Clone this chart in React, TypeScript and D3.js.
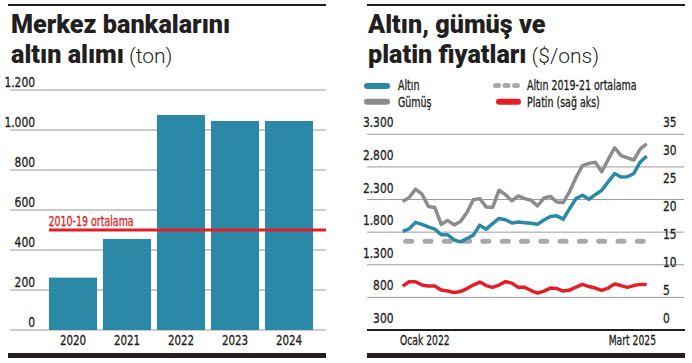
import React from 'react';
import * as d3 from 'd3';

// Merkez bankaları altın alımı (ton)
const years = ['2020', '2021', '2022', '2023', '2024'];
const purchases = [262, 455, 1075, 1045, 1045];
const avg2010_19 = 500;
const barTicks = [0, 200, 400, 600, 800, 1000, 1200];

// Altın, gümüş ve platin fiyatları, Ocak 2022 - Mart 2025 (aylık)
const months = d3.timeMonth.range(new Date(2022, 0, 1), new Date(2025, 3, 1));
const gold = [1812, 1850, 1950, 1920, 1880, 1846, 1760, 1760, 1680, 1650, 1700, 1754, 1907, 1846, 1930, 2010, 1990, 1940, 1955, 1945, 1935, 1922, 1985, 2040, 2050, 2000, 2160, 2316, 2366, 2305, 2375, 2443, 2570, 2698, 2646, 2650, 2700, 2876, 2968];
const silver = [23.0, 23.7, 25.2, 24.3, 22.1, 21.9, 18.9, 19.6, 18.8, 19.4, 21.0, 23.3, 23.5, 22.0, 21.9, 25.0, 24.2, 23.1, 24.0, 23.5, 23.2, 22.2, 23.6, 23.9, 22.9, 22.8, 24.8, 27.3, 29.4, 29.8, 30.0, 28.3, 30.5, 32.6, 31.2, 30.8, 30.4, 32.4, 33.3];
const platinum = [973, 1039, 1039, 989, 973, 973, 912, 897, 874, 889, 935, 989, 1035, 981, 954, 989, 1042, 1019, 954, 954, 905, 866, 897, 943, 935, 897, 912, 958, 999, 966, 943, 908, 943, 1004, 981, 954, 981, 999, 999];
const goldAvg2019_21 = 1662;
const leftTicks = [300, 800, 1300, 1800, 2300, 2800, 3300];
const rightTicks = [0, 5, 10, 15, 20, 25, 30, 35];

const BLUE = '#2b88a7';
const GRAY = '#8c8c8c';
const LIGHTGRAY = '#a9a9a9';
const RED = '#e41e26';
const INK = '#231f20';
const GRID = '#9a9a9a';
const NARROW = "'Liberation Sans Narrow', 'DejaVu Sans Condensed', sans-serif";
const TITLE = "Roboto, 'Open Sans', sans-serif";

const fmt = (v: number) => d3.format(',')(v).replace(/,/g, '.');

// condensed label: the original face is much narrower than anything installed
function NText({ x, y, sx = 0.78, anchor = 'start', size = 13.5, fill = INK, children }: any) {
  return (
    <text transform={`translate(${x},${y}) scale(${sx},1)`} textAnchor={anchor} fontFamily={NARROW} fontSize={size}
      fill={fill} stroke={fill} strokeWidth={0.3}>
      {children}
    </text>
  );
}

function BarPanel() {
  const x = d3.scaleBand<string>().domain(years).range([46, 316]).paddingInner(0.11).paddingOuter(0.055);
  const y = d3.scaleLinear().domain([0, 1200]).range([330, 90]);
  return (
    <g>
      <rect x={8} y={4} width={318} height={2} fill={INK} />
      <text x={11} y={33} fontFamily={TITLE} fontWeight={900} fontSize={25.2} fill={INK}>Merkez bankalarını</text>
      <text x={11} y={63} fontFamily={TITLE} fill={INK}>
        <tspan fontWeight={900} fontSize={25.2}>altın alımı</tspan>
        <tspan fontWeight={300} fontSize={21} dx={5}>(ton)</tspan>
      </text>
      {barTicks.map(t => (
        <g key={t}>
          <line x1={10} x2={326} y1={y(t)} y2={y(t)} stroke={GRID} strokeWidth={1} />
          <NText x={35} y={y(t) - 3.5} anchor="end" sx={0.88}>{fmt(t)}</NText>
        </g>
      ))}
      {years.map((yr, i) => (
        <rect key={yr} x={x(yr)} y={y(purchases[i])} width={x.bandwidth()} height={y(0) - y(purchases[i])} fill={BLUE} />
      ))}
      <line x1={49} x2={326} y1={y(avg2010_19)} y2={y(avg2010_19)} stroke={RED} strokeWidth={3} />
      <NText x={48.5} y={y(avg2010_19) - 4} size={13.5} fill={RED}>2010-19 ortalama</NText>
      {years.map(yr => (
        <NText key={yr} x={(x(yr) as number) + x.bandwidth() / 2} y={345} anchor="middle" sx={0.85}>{yr}</NText>
      ))}
      <rect x={8} y={353} width={318} height={5} fill={INK} />
    </g>
  );
}

function LinePanel() {
  const x = d3.scaleLinear().domain([0, months.length - 1]).range([402.7, 646.7]);
  const yL = d3.scaleLinear().domain([300, 3300]).range([330, 134.3]);
  const yR = d3.scaleLinear().domain([0, 35]).range([330, 134.3]);
  const lineL = d3.line<number>().x((_, i) => x(i)).y(d => yL(d));
  const lineR = d3.line<number>().x((_, i) => x(i)).y(d => yR(d));
  return (
    <g>
      <rect x={367} y={4} width={318} height={2} fill={INK} />
      <text x={368} y={33} fontFamily={TITLE} fontWeight={900} fontSize={25.2} fill={INK}>Altın, gümüş ve</text>
      <text x={368} y={63} fontFamily={TITLE} fill={INK}>
        <tspan fontWeight={900} fontSize={25.2}>platin fiyatları</tspan>
        <tspan fontWeight={300} fontSize={21} dx={5}>($/ons)</tspan>
      </text>

      {/* legend */}
      <line x1={367} x2={387} y1={86} y2={86} stroke={BLUE} strokeWidth={6} strokeLinecap="round" />
      <NText x={398} y={90}>Altın</NText>
      <line x1={367} x2={387} y1={101.7} y2={101.7} stroke={GRAY} strokeWidth={6} strokeLinecap="round" />
      <NText x={398} y={107}>Gümüş</NText>
      <line x1={495.5} x2={518} y1={85.5} y2={85.5} stroke={LIGHTGRAY} strokeWidth={5} strokeLinecap="round" strokeDasharray="3 6.5" />
      <NText x={527} y={90}>Altın 2019-21 ortalama</NText>
      <line x1={499} x2={518} y1={101.7} y2={101.7} stroke={RED} strokeWidth={6} strokeLinecap="round" />
      <NText x={527} y={107}>Platin (sağ aks)</NText>

      {leftTicks.slice(1).map(t => (
        <line key={t} x1={367} x2={684} y1={yL(t)} y2={yL(t)} stroke={GRID} strokeWidth={1} />
      ))}
      {leftTicks.map(t => (
        <NText key={t} x={393.5} y={yL(t) - 7} anchor="end" sx={0.88}>{fmt(t)}</NText>
      ))}
      {rightTicks.map(t => (
        <NText key={t} x={663} y={yR(t) - 7} sx={0.88}>{t}</NText>
      ))}

      <line x1={x(0) + 3} x2={644} y1={yL(goldAvg2019_21)} y2={yL(goldAvg2019_21)} stroke={LIGHTGRAY} strokeWidth={5} strokeLinecap="round" strokeDasharray="6 13.3" />
      <path d={lineR(silver) || ''} fill="none" stroke={GRAY} strokeWidth={3.5} strokeLinejoin="round" />
      <path d={lineL(gold) || ''} fill="none" stroke={BLUE} strokeWidth={3.5} strokeLinejoin="round" />
      <path d={lineL(platinum) || ''} fill="none" stroke={RED} strokeWidth={3.5} strokeLinejoin="round" />

      <rect x={367} y={329} width={318} height={2} fill={INK} />
      <NText x={400} y={345} sx={0.76}>Ocak 2022</NText>
      <NText x={656} y={345} anchor="end" sx={0.76}>Mart 2025</NText>
      <rect x={367} y={353} width={318} height={5} fill={INK} />
    </g>
  );
}

export default function App() {
  return (
    <svg width={692} height={363} viewBox="0 0 692 363" style={{ position: 'absolute', left: 0, top: 0, background: '#fff' }}>
      <BarPanel />
      <LinePanel />
    </svg>
  );
}
